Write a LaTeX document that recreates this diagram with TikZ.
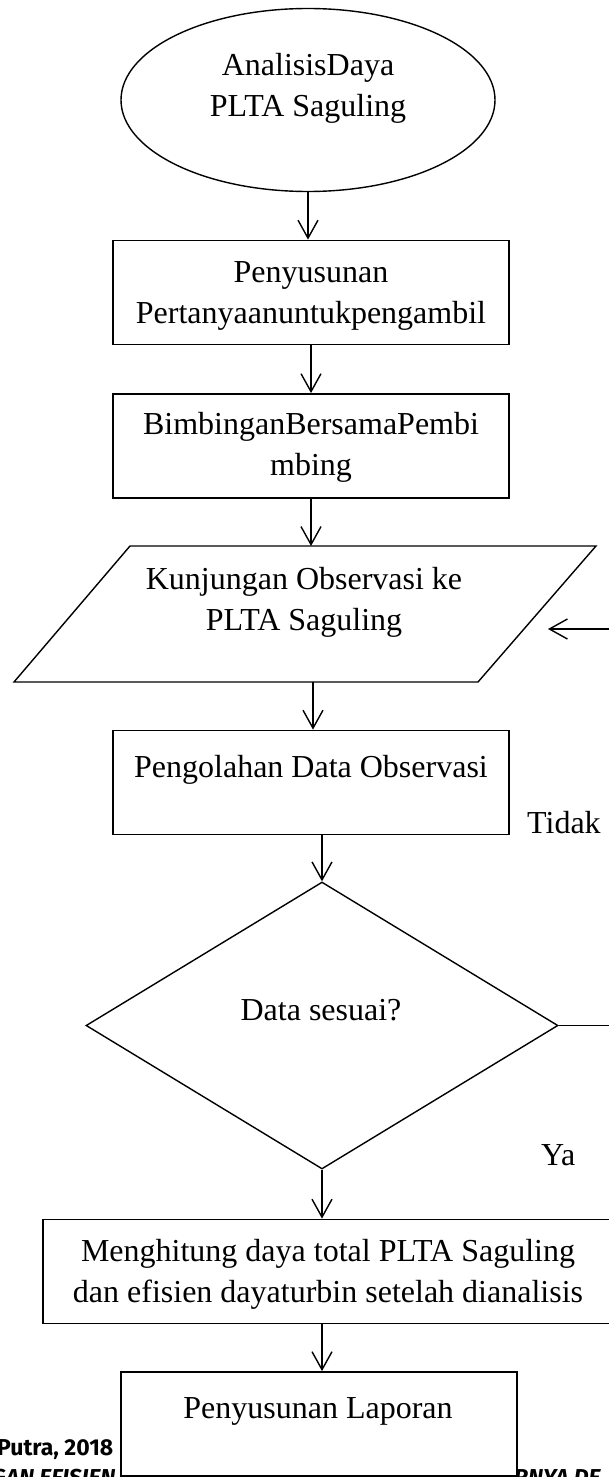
\documentclass[tikz,border=0pt]{standalone}
\usepackage{fontspec}
\setmainfont{Liberation Serif}
\newfontfamily\kakifont{Fira Sans}
\usetikzlibrary{arrows.meta,shapes.geometric}

\begin{document}
\begin{tikzpicture}[x=1pt,y=-1pt,
  every node/.style={inner sep=0pt},
  garis/.style={black,line width=1.4pt},
  kotak/.style={draw,black,line width=1.8pt,fill=white,rectangle,minimum width=396pt,minimum height=104pt},
  teks/.style={font=\fontsize{32}{41}\selectfont,align=center,anchor=base},
  kaki/.style={font=\kakifont\bfseries\fontsize{23}{27}\selectfont,anchor=base west},
  kakimiring/.style={kaki,font=\kakifont\bfseries\itshape\fontsize{23}{27}\selectfont},
  panah/.style={garis,-{Straight Barb[length=18pt,width=20pt]}}]
\useasboundingbox (0,0) rectangle (609,1477);
\clip (0,0) rectangle (609,1477);
\node[ellipse,draw,garis,minimum width=374pt,minimum height=183pt] (mulai) at (308,100) {};
\node[teks] (mulaiteks) at (308,117) {AnalisisDaya\\PLTA Saguling};
\node[kotak] (susun) at (311,292.5) {};
\node[teks] (susunteks) at (311,323) {Penyusunan\\Pertanyaanuntukpengambil};
\node[kotak] (bimbing) at (311,446) {};
\node[teks] (bimbingteks) at (311,475) {BimbinganBersamaPembi\\mbing};
\coordinate (kunjatas) at (311,546);
\coordinate (kunjbawah) at (313,682);
\coordinate (balik) at (548,629);
\draw[garis] (130,546) -- (596,546) -- (478,682) -- (14,682) -- cycle;
\node[teks] (kunjteks) at (304,630) {Kunjungan Observasi ke\\PLTA Saguling};
\node[kotak] (olah) at (311,782.5) {};
\node[teks] (olahteks) at (311,777) {Pengolahan Data Observasi};
\node[teks,anchor=base west] (tidak) at (527,833) {Tidak};
\node[diamond,draw,garis,minimum width=472pt,minimum height=287pt] (sesuai) at (322,1025.5) {};
\node[teks] (sesuaiteks) at (321,1020) {Data sesuai?};
\node[teks,anchor=base west] (ya) at (541,1165) {Ya};
\node[kotak,minimum width=568pt] (hitung) at (327,1271.5) {};
\node[teks] (hitungteks) at (328,1302) {Menghitung daya total PLTA Saguling\\dan efisien dayaturbin setelah dianalisis};
\node[kaki] (kakiatas) at (-3,1455) {Putra, 2018};
\node[kakimiring] (kakikiri) at (-9,1485) {GAN EFISIEN};
\node[kakimiring] (kakikanan) at (514,1485) {RNYA DE};
\node[kotak] (lapor) at (319,1424) {};
\node[teks] (laporteks) at (318,1418) {Penyusunan Laporan};
\draw[panah] (mulai.south) -- (mulai.south |- susun.north);
\draw[panah] (susun.south) -- (bimbing.north);
\draw[panah] (bimbing.south) -- (kunjatas);
\draw[panah] (kunjbawah) -- (kunjbawah |- olah.north);
\draw[panah] (sesuai.north |- olah.south) -- (sesuai.north);
\draw[panah] (sesuai.south) -- (sesuai.south |- hitung.north);
\draw[panah] (sesuai.south |- hitung.south) -- (sesuai.south |- lapor.north);
\draw[panah] (sesuai.east) -- ++(60,0) |- (balik);
\end{tikzpicture}
\end{document}
